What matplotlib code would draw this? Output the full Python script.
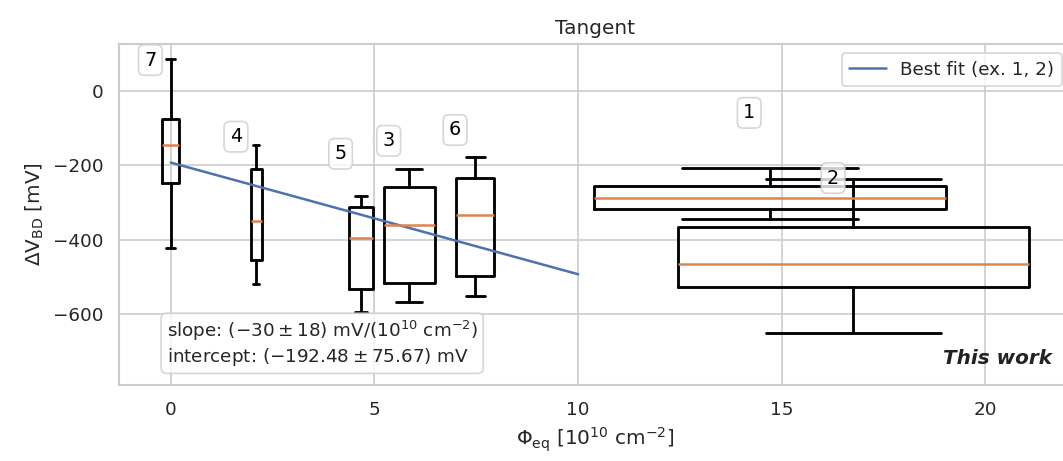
import matplotlib
matplotlib.use("Agg")
import matplotlib.pyplot as plt
import seaborn as sns

sns.set_theme(style="whitegrid")
plt.rcParams["mathtext.default"] = "regular"

DPI = 120

# Sample identifiers, fluence positions and box widths (fluence uncertainty)
sample_ids = ["7", "4", "5", "3", "6", "1", "2"]
positions = [0.0, 2.1, 4.67, 5.85, 7.48, 14.7, 16.76]
box_widths = [0.42, 0.28, 0.6, 1.25, 0.93, 8.64, 8.6]

# Breakdown voltage shift statistics [mV]
whisker_hi = [87, -146, -281, -209, -178, -207, -236]
q3_vals = [-76, -210, -312, -257, -234, -255, -365]
medians = [-146, -350, -396, -360, -334, -287, -464]
q1_vals = [-247, -455, -532, -516, -496, -317, -526]
whisker_lo = [-421, -519, -593, -566, -551, -343, -650]

# Label heights for the sample tags
label_y = [83, -123, -169, -134, -105, -59, -234]

# Linear fit excluding samples 1 and 2
fit_slope = -30.0
fit_intercept = -192.48
fit_x = [0.0, 10.0]

fig = plt.figure(figsize=(1063 / DPI, 461 / DPI), dpi=DPI)
ax = fig.add_axes([119 / 1063, 1 - 385 / 461, (1071 - 119) / 1063, (385 - 44) / 461])

stats = []
for i in range(len(sample_ids)):
    stats.append(dict(med=medians[i], q1=q1_vals[i], q3=q3_vals[i],
                      whislo=whisker_lo[i], whishi=whisker_hi[i], fliers=[]))

ax.bxp(stats, positions=positions, widths=box_widths, showfliers=False,
       boxprops=dict(color="black", linewidth=1.7),
       whiskerprops=dict(color="black", linewidth=1.7),
       capprops=dict(color="black", linewidth=1.7),
       medianprops=dict(color="#dd8452", linewidth=1.5),
       manage_ticks=False)

for sid, x, y in zip(sample_ids, positions, label_y):
    ax.text(x - 0.5, y, sid, ha="center", va="center", fontsize=11.5,
            color="black",
            bbox=dict(boxstyle="round", fc="white", ec="0.8", alpha=0.8))

fit_y = [fit_intercept + fit_slope * x for x in fit_x]
ax.plot(fit_x, fit_y, color="#4c72b0", linewidth=1.5, label="Best fit (ex. 1, 2)")

ax.text(0.05, 0.05,
        "slope: $(-30 \\pm 18)$ mV/$(10^{10}$ cm$^{-2})$\n"
        "intercept: $(-192.48 \\pm 75.67)$ mV",
        transform=ax.transAxes, ha="left", va="bottom", fontsize=11,
        bbox=dict(boxstyle="round", fc="white", ec="0.8", alpha=0.8))

ax.text(0.98, 0.05, "This work", transform=ax.transAxes, ha="right",
        va="bottom", fontsize=12, fontweight="bold", fontstyle="italic",
        color="#222222")

ax.set_xticks([0, 5, 10, 15, 20])
ax.set_yticks([0, -200, -400, -600])
ax.set_ylim(-790, 126)
ax.set_xlim(-1.27, 22.1)

ax.set_title("Tangent")
ax.set_xlabel("$\\Phi_{eq}$ [$10^{10}$ cm$^{-2}$]")
ax.set_ylabel("$\\Delta V_{BD}$ [mV]")
ax.legend(loc="upper right")

fig.savefig("out.png", dpi=DPI)
